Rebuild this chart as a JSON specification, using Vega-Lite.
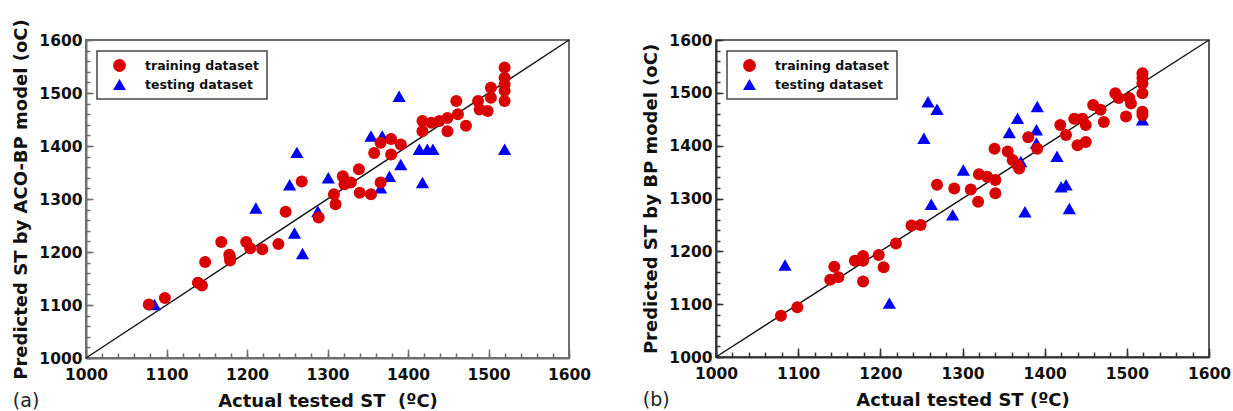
{
  "$schema": "https://vega.github.io/schema/vega-lite/v6.json",
  "padding": {"left": 11, "top": 17, "right": 5, "bottom": 0},
  "spacing": 50,
  "background": "white",
  "datasets": {
    "a": [
      {"set": "testing dataset", "actual": 1085, "pred": 1101},
      {"set": "testing dataset", "actual": 1211, "pred": 1283},
      {"set": "testing dataset", "actual": 1253, "pred": 1327},
      {"set": "testing dataset", "actual": 1259, "pred": 1236},
      {"set": "testing dataset", "actual": 1262, "pred": 1388},
      {"set": "testing dataset", "actual": 1269, "pred": 1197},
      {"set": "testing dataset", "actual": 1288, "pred": 1277},
      {"set": "testing dataset", "actual": 1301, "pred": 1340},
      {"set": "testing dataset", "actual": 1354, "pred": 1419},
      {"set": "testing dataset", "actual": 1368, "pred": 1419},
      {"set": "testing dataset", "actual": 1389, "pred": 1494},
      {"set": "testing dataset", "actual": 1391, "pred": 1365},
      {"set": "testing dataset", "actual": 1377, "pred": 1343},
      {"set": "testing dataset", "actual": 1366, "pred": 1321},
      {"set": "testing dataset", "actual": 1414, "pred": 1394},
      {"set": "testing dataset", "actual": 1424, "pred": 1394},
      {"set": "testing dataset", "actual": 1431, "pred": 1394},
      {"set": "testing dataset", "actual": 1418, "pred": 1331},
      {"set": "testing dataset", "actual": 1520, "pred": 1394},
      {"set": "training dataset", "actual": 1078, "pred": 1101},
      {"set": "training dataset", "actual": 1098, "pred": 1113},
      {"set": "training dataset", "actual": 1139, "pred": 1142},
      {"set": "training dataset", "actual": 1144, "pred": 1137},
      {"set": "training dataset", "actual": 1148, "pred": 1181},
      {"set": "training dataset", "actual": 1168, "pred": 1219},
      {"set": "training dataset", "actual": 1178, "pred": 1195},
      {"set": "training dataset", "actual": 1179, "pred": 1184},
      {"set": "training dataset", "actual": 1179, "pred": 1189},
      {"set": "training dataset", "actual": 1199, "pred": 1219},
      {"set": "training dataset", "actual": 1204, "pred": 1207},
      {"set": "training dataset", "actual": 1219, "pred": 1205},
      {"set": "training dataset", "actual": 1239, "pred": 1215},
      {"set": "training dataset", "actual": 1248, "pred": 1276},
      {"set": "training dataset", "actual": 1268, "pred": 1333},
      {"set": "training dataset", "actual": 1289, "pred": 1265},
      {"set": "training dataset", "actual": 1308, "pred": 1309},
      {"set": "training dataset", "actual": 1310, "pred": 1290},
      {"set": "training dataset", "actual": 1319, "pred": 1343},
      {"set": "training dataset", "actual": 1321, "pred": 1328},
      {"set": "training dataset", "actual": 1329, "pred": 1331},
      {"set": "training dataset", "actual": 1339, "pred": 1356},
      {"set": "training dataset", "actual": 1340, "pred": 1312},
      {"set": "training dataset", "actual": 1354, "pred": 1309},
      {"set": "training dataset", "actual": 1366, "pred": 1331},
      {"set": "training dataset", "actual": 1358, "pred": 1387},
      {"set": "training dataset", "actual": 1366, "pred": 1406},
      {"set": "training dataset", "actual": 1379, "pred": 1413},
      {"set": "training dataset", "actual": 1379, "pred": 1384},
      {"set": "training dataset", "actual": 1391, "pred": 1403},
      {"set": "training dataset", "actual": 1418, "pred": 1447},
      {"set": "training dataset", "actual": 1418, "pred": 1428},
      {"set": "training dataset", "actual": 1429, "pred": 1444},
      {"set": "training dataset", "actual": 1439, "pred": 1447},
      {"set": "training dataset", "actual": 1449, "pred": 1453},
      {"set": "training dataset", "actual": 1449, "pred": 1428},
      {"set": "training dataset", "actual": 1460, "pred": 1485},
      {"set": "training dataset", "actual": 1462, "pred": 1460},
      {"set": "training dataset", "actual": 1472, "pred": 1438},
      {"set": "training dataset", "actual": 1487, "pred": 1485},
      {"set": "training dataset", "actual": 1489, "pred": 1469},
      {"set": "training dataset", "actual": 1499, "pred": 1466},
      {"set": "training dataset", "actual": 1503, "pred": 1510},
      {"set": "training dataset", "actual": 1503, "pred": 1491},
      {"set": "training dataset", "actual": 1520, "pred": 1548},
      {"set": "training dataset", "actual": 1520, "pred": 1529},
      {"set": "training dataset", "actual": 1520, "pred": 1516},
      {"set": "training dataset", "actual": 1520, "pred": 1504},
      {"set": "training dataset", "actual": 1520, "pred": 1485}
    ],
    "b": [
      {"set": "testing dataset", "actual": 1084, "pred": 1174},
      {"set": "testing dataset", "actual": 1211, "pred": 1102},
      {"set": "testing dataset", "actual": 1258, "pred": 1483},
      {"set": "testing dataset", "actual": 1269, "pred": 1469},
      {"set": "testing dataset", "actual": 1253, "pred": 1414},
      {"set": "testing dataset", "actual": 1262, "pred": 1289},
      {"set": "testing dataset", "actual": 1288, "pred": 1269},
      {"set": "testing dataset", "actual": 1301, "pred": 1354},
      {"set": "testing dataset", "actual": 1367, "pred": 1452},
      {"set": "testing dataset", "actual": 1391, "pred": 1474},
      {"set": "testing dataset", "actual": 1357, "pred": 1425},
      {"set": "testing dataset", "actual": 1390, "pred": 1430},
      {"set": "testing dataset", "actual": 1390, "pred": 1405},
      {"set": "testing dataset", "actual": 1371, "pred": 1370},
      {"set": "testing dataset", "actual": 1415, "pred": 1380},
      {"set": "testing dataset", "actual": 1420, "pred": 1322},
      {"set": "testing dataset", "actual": 1426, "pred": 1326},
      {"set": "testing dataset", "actual": 1376, "pred": 1275},
      {"set": "testing dataset", "actual": 1430, "pred": 1281},
      {"set": "testing dataset", "actual": 1519, "pred": 1449},
      {"set": "training dataset", "actual": 1079, "pred": 1078},
      {"set": "training dataset", "actual": 1099, "pred": 1094},
      {"set": "training dataset", "actual": 1139, "pred": 1146},
      {"set": "training dataset", "actual": 1149, "pred": 1151},
      {"set": "training dataset", "actual": 1144, "pred": 1171},
      {"set": "training dataset", "actual": 1179, "pred": 1143},
      {"set": "training dataset", "actual": 1169, "pred": 1182},
      {"set": "training dataset", "actual": 1179, "pred": 1191},
      {"set": "training dataset", "actual": 1179, "pred": 1182},
      {"set": "training dataset", "actual": 1198, "pred": 1193},
      {"set": "training dataset", "actual": 1204, "pred": 1170},
      {"set": "training dataset", "actual": 1219, "pred": 1215},
      {"set": "training dataset", "actual": 1238, "pred": 1249},
      {"set": "training dataset", "actual": 1249, "pred": 1250},
      {"set": "training dataset", "actual": 1269, "pred": 1326},
      {"set": "training dataset", "actual": 1290, "pred": 1319},
      {"set": "training dataset", "actual": 1310, "pred": 1317},
      {"set": "training dataset", "actual": 1319, "pred": 1294},
      {"set": "training dataset", "actual": 1320, "pred": 1346},
      {"set": "training dataset", "actual": 1330, "pred": 1341},
      {"set": "training dataset", "actual": 1340, "pred": 1335},
      {"set": "training dataset", "actual": 1340, "pred": 1310},
      {"set": "training dataset", "actual": 1339, "pred": 1394},
      {"set": "training dataset", "actual": 1355, "pred": 1389},
      {"set": "training dataset", "actual": 1361, "pred": 1373},
      {"set": "training dataset", "actual": 1367, "pred": 1363},
      {"set": "training dataset", "actual": 1369, "pred": 1357},
      {"set": "training dataset", "actual": 1380, "pred": 1416},
      {"set": "training dataset", "actual": 1391, "pred": 1394},
      {"set": "training dataset", "actual": 1419, "pred": 1439},
      {"set": "training dataset", "actual": 1426, "pred": 1420},
      {"set": "training dataset", "actual": 1436, "pred": 1451},
      {"set": "training dataset", "actual": 1446, "pred": 1451},
      {"set": "training dataset", "actual": 1450, "pred": 1439},
      {"set": "training dataset", "actual": 1440, "pred": 1401},
      {"set": "training dataset", "actual": 1450, "pred": 1407},
      {"set": "training dataset", "actual": 1459, "pred": 1477},
      {"set": "training dataset", "actual": 1468, "pred": 1468},
      {"set": "training dataset", "actual": 1472, "pred": 1445},
      {"set": "training dataset", "actual": 1486, "pred": 1499},
      {"set": "training dataset", "actual": 1490, "pred": 1490},
      {"set": "training dataset", "actual": 1503, "pred": 1490},
      {"set": "training dataset", "actual": 1505, "pred": 1480},
      {"set": "training dataset", "actual": 1499, "pred": 1455},
      {"set": "training dataset", "actual": 1519, "pred": 1537},
      {"set": "training dataset", "actual": 1519, "pred": 1528},
      {"set": "training dataset", "actual": 1519, "pred": 1518},
      {"set": "training dataset", "actual": 1519, "pred": 1499},
      {"set": "training dataset", "actual": 1519, "pred": 1464},
      {"set": "training dataset", "actual": 1519, "pred": 1458}
    ],
    "diag": [{"x": 1000, "y": 1000, "x2": 1600, "y2": 1600}]
  },
  "resolve": {
    "scale": {"color": "independent", "shape": "independent", "x": "independent", "y": "independent"},
    "legend": {"color": "independent", "shape": "independent"}
  },
  "hconcat": [
    {
      "width": 483,
      "height": 318,
      "view": {"stroke": "#6e6e6e", "strokeWidth": 2},
      "title": {"text": "(a)", "orient": "bottom", "anchor": "start", "frame": "bounds", "fontSize": 19, "fontWeight": "normal", "offset": -19, "dx": 0, "color": "#222", "font": "DejaVu Sans"},
      "resolve": {"axis": {"x": "independent", "y": "independent"}},
      "layer": [
        {
          "data": {"name": "diag"},
          "mark": {"type": "rule", "color": "#111", "strokeWidth": 1.4},
          "encoding": {
            "x": {"field": "x", "type": "quantitative",
              "scale": {"domain": [1000, 1600], "nice": false, "zero": false},
              "axis": {"orient": "bottom", "title": null, "labels": false, "domain": false, "tickSize": -5,
                "values": [1000,1020,1040,1060,1080,1100,1120,1140,1160,1180,1200,1220,1240,1260,1280,1300,1320,1340,1360,1380,1400,1420,1440,1460,1480,1500,1520,1540,1560,1580,1600]}},
            "y": {"field": "y", "type": "quantitative",
              "scale": {"domain": [1000, 1600], "nice": false, "zero": false},
              "axis": {"orient": "left", "title": null, "labels": false, "domain": false, "tickSize": -4,
                "values": [1000,1020,1040,1060,1080,1100,1120,1140,1160,1180,1200,1220,1240,1260,1280,1300,1320,1340,1360,1380,1400,1420,1440,1460,1480,1500,1520,1540,1560,1580,1600]}},
            "x2": {"field": "x2"},
            "y2": {"field": "y2"}
          }
        },
        {
          "data": {"name": "a"},
          "mark": {"type": "point", "filled": true, "opacity": 1},
          "encoding": {
            "x": {"field": "actual", "type": "quantitative",
              "scale": {"domain": [1000, 1600], "nice": false, "zero": false},
              "axis": {"orient": "bottom", "title": "Actual tested ST\u00a0 (ºC)", "format": "d",
                "values": [1000, 1100, 1200, 1300, 1400, 1500, 1600],
                "tickSize": -9, "labelPadding": 18, "titlePadding": 10}},
            "y": {"field": "pred", "type": "quantitative",
              "scale": {"domain": [1000, 1600], "nice": false, "zero": false},
              "axis": {"orient": "left", "title": "Predicted ST by ACO-BP model (oC)", "format": "d",
                "values": [1000, 1100, 1200, 1300, 1400, 1500, 1600],
                "tickSize": -7, "labelPadding": 11, "titlePadding": 8}},
            "color": {"field": "set", "type": "nominal",
              "scale": {"domain": ["training dataset", "testing dataset"], "range": ["#d90000", "#0000f5"]},
              "legend": {"title": null}},
            "shape": {"field": "set", "type": "nominal",
              "scale": {"domain": ["training dataset", "testing dataset"], "range": ["circle", "triangle-up"]},
              "legend": {"title": null}},
            "size": {"field": "set", "type": "nominal",
              "scale": {"domain": ["training dataset", "testing dataset"], "range": [144, 175]},
              "legend": null}
          }
        }
      ]
    },
    {
      "width": 493,
      "height": 317,
      "view": {"stroke": "#333", "strokeWidth": 1.6},
      "title": {"text": "(b)", "orient": "bottom", "anchor": "start", "frame": "bounds", "fontSize": 19, "fontWeight": "normal", "offset": -19, "dx": 0, "color": "#222", "font": "DejaVu Sans"},
      "resolve": {"axis": {"x": "independent", "y": "independent"}},
      "layer": [
        {
          "data": {"name": "diag"},
          "mark": {"type": "rule", "color": "#111", "strokeWidth": 1.4},
          "encoding": {
            "x": {"field": "x", "type": "quantitative",
              "scale": {"domain": [1000, 1600], "nice": false, "zero": false},
              "axis": {"orient": "bottom", "title": null, "labels": false, "domain": false, "tickSize": -5, "tickColor": "#333",
                "values": [1000,1020,1040,1060,1080,1100,1120,1140,1160,1180,1200,1220,1240,1260,1280,1300,1320,1340,1360,1380,1400,1420,1440,1460,1480,1500,1520,1540,1560,1580,1600]}},
            "y": {"field": "y", "type": "quantitative",
              "scale": {"domain": [1000, 1600], "nice": false, "zero": false},
              "axis": {"orient": "left", "title": null, "labels": false, "domain": false, "tickSize": -4, "tickColor": "#333",
                "values": [1000,1020,1040,1060,1080,1100,1120,1140,1160,1180,1200,1220,1240,1260,1280,1300,1320,1340,1360,1380,1400,1420,1440,1460,1480,1500,1520,1540,1560,1580,1600]}},
            "x2": {"field": "x2"},
            "y2": {"field": "y2"}
          }
        },
        {
          "data": {"name": "b"},
          "mark": {"type": "point", "filled": true, "opacity": 1},
          "encoding": {
            "x": {"field": "actual", "type": "quantitative",
              "scale": {"domain": [1000, 1600], "nice": false, "zero": false},
              "axis": {"orient": "bottom", "title": "Actual tested ST (ºC)", "format": "d",
                "values": [1000, 1100, 1200, 1300, 1400, 1500, 1600],
                "tickSize": -9, "labelPadding": 18, "titlePadding": 10, "domainColor": "#333", "tickColor": "#333"}},
            "y": {"field": "pred", "type": "quantitative",
              "scale": {"domain": [1000, 1600], "nice": false, "zero": false},
              "axis": {"orient": "left", "title": "Predicted ST by BP model (oC)", "format": "d",
                "values": [1000, 1100, 1200, 1300, 1400, 1500, 1600],
                "tickSize": -7, "labelPadding": 11, "titlePadding": 8, "domainColor": "#333", "tickColor": "#333"}},
            "color": {"field": "set", "type": "nominal",
              "scale": {"domain": ["training dataset", "testing dataset"], "range": ["#d90000", "#0000f5"]},
              "legend": {"title": null}},
            "shape": {"field": "set", "type": "nominal",
              "scale": {"domain": ["training dataset", "testing dataset"], "range": ["circle", "triangle-up"]},
              "legend": {"title": null}},
            "size": {"field": "set", "type": "nominal",
              "scale": {"domain": ["training dataset", "testing dataset"], "range": [144, 175]},
              "legend": null}
          }
        }
      ]
    }
  ],
  "config": {
    "font": "DejaVu Sans",
    "axis": {
      "grid": false,
      "labelFont": "DejaVu Sans",
      "labelFontWeight": "bold",
      "labelFontSize": 15.5,
      "labelColor": "#111",
      "labelFlush": false,
      "labelOverlap": false,
      "titleFont": "DejaVu Sans",
      "titleFontWeight": "bold",
      "titleFontSize": 18,
      "titleColor": "#111",
      "domainColor": "#6e6e6e",
      "domainWidth": 2,
      "tickColor": "#6e6e6e",
      "tickWidth": 1.5
    },
    "legend": {
      "orient": "top-left",
      "offset": 11,
      "strokeColor": "#444",
      "strokeWidth": 1.5,
      "fillColor": "white",
      "padding": 8,
      "rowPadding": 6,
      "symbolOffset": 8,
      "labelOffset": 19,
      "labelFont": "DejaVu Sans",
      "labelFontSize": 12.5,
      "labelFontWeight": "bold",
      "labelColor": "#111",
      "symbolSize": 165,
      "symbolStrokeWidth": 0
    }
  }
}
